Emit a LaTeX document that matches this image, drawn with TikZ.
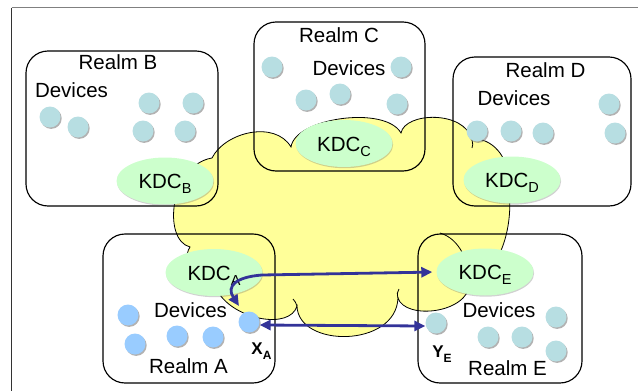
\documentclass[tikz,border=0pt]{standalone}
\usepackage{fontspec}
\setmainfont{Liberation Sans}
\usetikzlibrary{shapes.geometric,arrows.meta,shadows}

\definecolor{cloudy}{RGB}{255,255,153}
\definecolor{kdcgreen}{RGB}{204,255,204}
\definecolor{devteal}{RGB}{183,222,226}
\definecolor{devblue}{RGB}{153,204,255}
\definecolor{linkblue}{RGB}{51,51,153}

% KDC label with a lowered realm letter
\newcommand\kdcname[1]{KDC\raisebox{-5pt}{\fontsize{14.5}{15}\selectfont #1}}
% bold host label with a lowered realm letter
\newcommand\hostname[2]{\textbf{#1\raisebox{-5pt}{\fontsize{12}{12}\selectfont #2}}}

\begin{document}
\begin{tikzpicture}[x=1pt,y=-1pt,
  realm/.style={draw=black, line width=1.15pt, rounded corners=22pt,
    rectangle, inner sep=0pt},
  kdc/.style={ellipse, fill=kdcgreen, inner sep=0pt,
    minimum width=97pt, minimum height=47pt,
    font=\fontsize{20.5}{24}\selectfont, text height=15pt, text depth=0pt,
    drop shadow={shadow xshift=0.6pt, shadow yshift=-1.2pt, opacity=0.3, fill=black!60}},
  dev/.style={circle, minimum size=21pt, inner sep=0pt,
    drop shadow={shadow xshift=1.2pt, shadow yshift=-1.4pt, opacity=0.55, fill=black!55}},
  tdev/.style={dev, fill=devteal},
  bdev/.style={dev, fill=devblue},
  lbl/.style={font=\fontsize{20.5}{24}\selectfont, inner sep=0pt, anchor=base},
  host/.style={font=\fontsize{17}{20}\selectfont, inner sep=0pt, anchor=base},
  cloudline/.style={draw=black, line width=0.8pt},
  link/.style={draw=linkblue, line width=2.8pt,
    {Triangle[length=11pt,width=10pt]}-{Triangle[length=11pt,width=10pt]}}
]
\useasboundingbox (0,0) rectangle (638,391);

% page frame
\draw[black!50, line width=1pt] (11.5,7.5) -- (638,7.5);
\draw[black!80, line width=1pt] (11.5,7.5) -- (11.5,391);

% the shared cloud between the realms
\path[fill=cloudy, cloudline]
  (190,247)
  .. controls (162,240) and (170,165) .. (212,158)
  .. controls (225,132) and (275,120) .. (291,147)
  .. controls (295,118) and (385,105) .. (401,133)
  .. controls (405,112) and (465,110) .. (472,140)
  .. controls (490,135) and (512,160) .. (505,178)
  .. controls (515,195) and (512,268) .. (470,283)
  .. controls (468,314) and (405,320) .. (398,298)
  .. controls (396,348) and (298,348) .. (297,306)
  .. controls (290,330) and (235,320) .. (218,292)
  .. controls (195,292) and (180,262) .. (190,247)
  -- cycle;
% inner puff edges
\draw[cloudline] (398,298) .. controls (397,294) and (397,292) .. (399,289);
\draw[cloudline] (297,306) .. controls (296,303) and (295,301) .. (293,299);
\draw[cloudline] (472,140) .. controls (473,143) and (473,146) .. (472,148);
\draw[cloudline] (440,233) .. controls (450,236) and (457,243) .. (462,252);

% realms
\node[realm, minimum width=192pt, minimum height=155pt] (rB) at (122,128.5) {};
\node[realm, minimum width=171pt, minimum height=149pt] (rC) at (339.5,96.5) {};
\node[realm, minimum width=178pt, minimum height=149pt] (rD) at (542,131.5) {};
\node[realm, minimum width=172pt, minimum height=149pt] (rA) at (189,308.5) {};
\node[realm, minimum width=164pt, minimum height=149pt] (rE) at (500,308.5) {};

% key distribution centres
\node[kdc] (kb) at (165,181) {\kdcname{B}};
\node[kdc] (kc) at (344,143.5) {\kdcname{C}};
\node[kdc] (kd) at (512,180) {\kdcname{D}};
\node[kdc] (ka) at (214,272.5) {\kdcname{A}};
\node[kdc] (ke) at (485,272) {\kdcname{E}};

% devices of realm B
\node[tdev] (b1) at (50,117) {};
\node[tdev] (b2) at (78,127) {};
\node[tdev] (b3) at (149,103) {};
\node[tdev] (b4) at (193,103) {};
\node[tdev] (b5) at (143,131) {};
\node[tdev] (b6) at (185,131) {};
% devices of realm C
\node[tdev] (c1) at (272,67) {};
\node[tdev] (c2) at (401,67) {};
\node[tdev] (c3) at (306,100) {};
\node[tdev] (c4) at (340,94) {};
\node[tdev] (c5) at (397,104) {};
% devices of realm D
\node[tdev] (d1) at (477,131) {};
\node[tdev] (d2) at (511,131) {};
\node[tdev] (d3) at (543,133) {};
\node[tdev] (d4) at (609,104) {};
\node[tdev] (d5) at (615,133) {};
% devices of realm A
\node[bdev] (a1) at (128,315) {};
\node[bdev] (a2) at (135,344) {};
\node[bdev] (a3) at (177,336) {};
\node[bdev] (a4) at (213,337) {};
\node[bdev] (xa) at (249,322) {};
% devices of realm E
\node[tdev] (ye) at (436,323) {};
\node[tdev] (e1) at (488,337) {};
\node[tdev] (e2) at (522,337) {};
\node[tdev] (e3) at (556,317) {};
\node[tdev] (e4) at (556,351) {};

% realm titles and device captions
\node[lbl] (tB) at (118,69) {Realm B};
\node[lbl] (dB) at (71.5,97) {Devices};
\node[lbl] (tC) at (339,42) {Realm C};
\node[lbl] (dC) at (349,75) {Devices};
\node[lbl] (tD) at (545.5,77) {Realm D};
\node[lbl] (dD) at (514,105) {Devices};
\node[lbl] (tA) at (188.5,373) {Realm A};
\node[lbl] (dA) at (190.5,317) {Devices};
\node[lbl] (tE) at (507.5,375) {Realm E};
\node[lbl] (dE) at (499,317) {Devices};

% host names
\node[host] (hX) at (261.5,354) {\hostname{X}{A}};
\node[host] (hY) at (442,357) {\hostname{Y}{E}};

% exchanges
\coordinate (turn) at (239,306);
\draw[link, shorten >=4pt] (turn) .. controls (226,286) and (236,277) .. (262,275) -- (ke.west);
\draw[link] ([yshift=-3pt]xa.east) -- ([yshift=-3pt]ye.west);
\end{tikzpicture}
\end{document}
